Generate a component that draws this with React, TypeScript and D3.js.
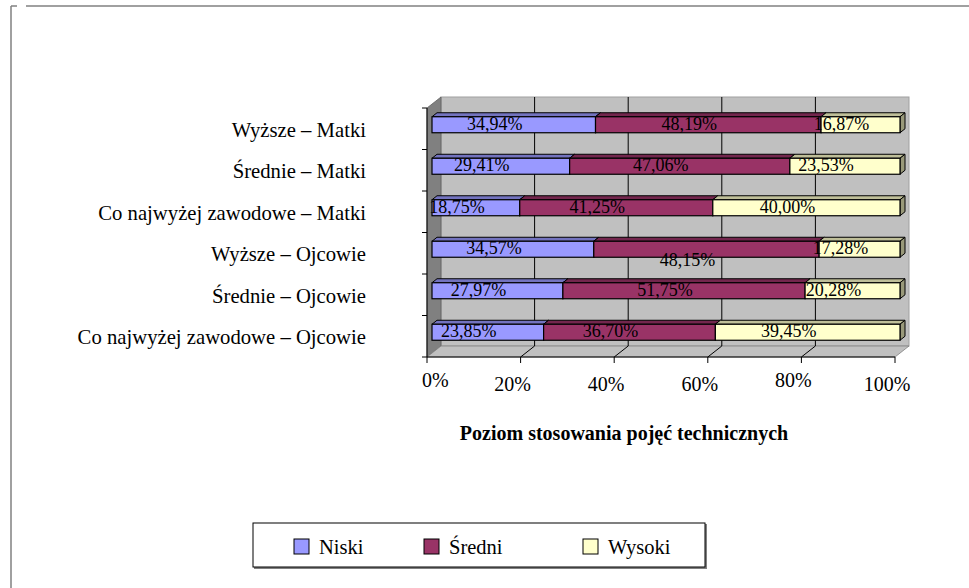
import React from 'react';
import * as d3 from 'd3';

const categories = [
  'Wyższe – Matki',
  'Średnie – Matki',
  'Co najwyżej zawodowe – Matki',
  'Wyższe – Ojcowie',
  'Średnie – Ojcowie',
  'Co najwyżej zawodowe – Ojcowie',
];
const seriesNames = ['Niski', 'Średni', 'Wysoki'];
const niski = [34.94, 29.41, 18.75, 34.57, 27.97, 23.85];
const sredni = [48.19, 47.06, 41.25, 48.15, 51.75, 36.7];
const wysoki = [16.87, 23.53, 40.0, 17.28, 20.28, 39.45];
const tickValues = [0, 20, 40, 60, 80, 100];
const tickLabels = ['0%', '20%', '40%', '60%', '80%', '100%'];
const axisTitle = 'Poziom stosowania pojęć technicznych';

const W = 969;
const H = 588;
const serif = { fontFamily: "'Liberation Serif'" };

// face colours per series: front, top, side
const colors = [
  { front: '#9999FF', top: '#7373BF', side: '#5C5C99' },
  { front: '#993366', top: '#73264D', side: '#5C1F3D' },
  { front: '#FFFFCC', top: '#BFBF99', side: '#99997A' },
];

const fmt = (v: number) => v.toFixed(2).replace('.', ',') + '%';

const App: React.FC = () => {
  const x = d3.scaleLinear().domain([0, 100]).range([427, 895]);
  const y = d3.scaleBand<string>().domain(categories).range([108, 357]);
  const depth = { dx: 14, dy: -11 };
  const barFront = { dx: 5, dy: -4 };
  const barDepth = { dx: 5, dy: -4 };
  const barH = 16;

  const rows = categories.map((c, i) => ({
    category: c,
    Niski: niski[i],
    Średni: sredni[i],
    Wysoki: wysoki[i],
  }));
  const stacked = d3.stack<any>().keys(seriesNames)(rows);

  const [x0, x1] = x.range();
  const [y0, y1] = y.range();
  const pts = (p: number[][]) => p.map(q => q.join(',')).join(' ');

  return (
    <svg width={W} height={H} style={{ position: 'absolute', left: 0, top: 0, background: '#fff' }}>
      {/* outer frame */}
      <line x1={11} y1={6} x2={11} y2={H} stroke="#808080" strokeWidth={1.5} />
      <line x1={11} y1={6} x2={17} y2={6} stroke="#808080" strokeWidth={1.5} />
      <line x1={26} y1={6} x2={W} y2={6} stroke="#808080" strokeWidth={1.5} />

      {/* back wall */}
      <rect x={x0 + depth.dx} y={y0 + depth.dy} width={x1 - x0} height={y1 - y0}
        fill="#C0C0C0" stroke="#A0A0A0" />
      {/* left side wall */}
      <polygon
        points={pts([[x0, y0], [x0 + depth.dx, y0 + depth.dy], [x0 + depth.dx, y1 + depth.dy], [x0, y1]])}
        fill="#808080" stroke="#606060" strokeWidth={0.8} />
      {/* floor */}
      <polygon
        points={pts([[x0, y1], [x0 + depth.dx, y1 + depth.dy], [x1 + depth.dx, y1 + depth.dy], [x1, y1]])}
        fill="#C0C0C0" stroke="#808080" strokeWidth={0.8} />

      {/* gridlines on wall and floor */}
      {tickValues.slice(1, -1).map(t => (
        <g key={t}>
          <line x1={x(t) + depth.dx} x2={x(t) + depth.dx} y1={y0 + depth.dy} y2={y1 + depth.dy}
            stroke="#000" strokeWidth={1} />
          <line x1={x(t)} y1={y1} x2={x(t) + depth.dx} y2={y1 + depth.dy} stroke="#000" strokeWidth={1} />
        </g>
      ))}

      {/* bars */}
      {categories.map((c, i) => {
        const top = (y(c) as number) + y.bandwidth() / 2 - barH / 2 + barFront.dy;
        const bottom = top + barH;
        return (
          <g key={c}>
            {stacked.map((s, k) => {
              const a = x(s[i][0]) + barFront.dx;
              const b = x(s[i][1]) + barFront.dx;
              const col = colors[k];
              return (
                <g key={k}>
                  <polygon
                    points={pts([[a, top], [a + barDepth.dx, top + barDepth.dy], [b + barDepth.dx, top + barDepth.dy], [b, top]])}
                    fill={col.top} stroke="#000" strokeWidth={1} strokeLinejoin="round" />
                  <polygon
                    points={pts([[b, top], [b + barDepth.dx, top + barDepth.dy], [b + barDepth.dx, bottom + barDepth.dy], [b, bottom]])}
                    fill={col.side} stroke="#000" strokeWidth={1} strokeLinejoin="round" />
                  <rect x={a} y={top} width={b - a} height={barH} fill={col.front} stroke="#000" strokeWidth={1.2} />
                </g>
              );
            })}
          </g>
        );
      })}

      {/* data labels */}
      {categories.map((c, i) => {
        const mid = (y(c) as number) + y.bandwidth() / 2 + barFront.dy;
        return stacked.map((s, k) => {
          const cx = (x(s[i][0]) + x(s[i][1])) / 2 + barFront.dx - 19;
          // Excel pushed this one label below its bar
          const nudge = i === 3 && k === 1 ? 12 : 0;
          return (
            <text key={c + k} x={cx} y={mid + 5 + nudge} textAnchor="middle"
              style={serif} fontSize={18} fill="#000">
              {fmt(s[i].data[seriesNames[k]])}
            </text>
          );
        });
      })}

      {/* axes */}
      <line x1={x0} y1={y1} x2={x1} y2={y1} stroke="#000" strokeWidth={1.2} />
      <line x1={x0} y1={y0} x2={x0} y2={y1} stroke="#000" strokeWidth={1} />
      {tickValues.map(t => (
        <line key={t} x1={x(t)} x2={x(t)} y1={y1} y2={y1 + 6} stroke="#000" strokeWidth={1} />
      ))}
      {[...categories.map(c => y(c) as number), y1].map((v, i) => (
        <line key={i} x1={x0 - 5} x2={x0} y1={v} y2={v} stroke="#000" strokeWidth={1} />
      ))}
      {tickValues.map((t, i) => (
        // first label is kept inside the axis start
        <text key={t} x={i === 0 ? x0 - 5 : x(t) - 8} y={i % 4 === 0 ? 387 : 391}
          textAnchor={i === 0 ? 'start' : 'middle'} style={serif} fontSize={20}>
          {tickLabels[i]}
        </text>
      ))}
      {categories.map(c => (
        <text key={c} x={366} y={(y(c) as number) + y.bandwidth() / 2 + 8} textAnchor="end"
          style={serif} fontSize={20.7}>
          {c}
        </text>
      ))}
      <text x={624} y={440} textAnchor="middle" style={serif} fontSize={20} fontWeight="bold">
        {axisTitle}
      </text>

      {/* legend */}
      <rect x={254} y={524} width={453} height={45} fill="#808080" />
      <rect x={253} y={523} width={452} height={44} fill="#fff" stroke="#000" strokeWidth={1} />
      {seriesNames.map((n, k) => {
        const lx = [294, 424, 583][k];
        return (
          <g key={n}>
            <rect x={lx} y={539} width={15} height={15} fill={colors[k].front} stroke="#000" strokeWidth={1} />
            <text x={lx + 25} y={554} style={serif} fontSize={20.5}>{n}</text>
          </g>
        );
      })}
    </svg>
  );
};

export default App;
